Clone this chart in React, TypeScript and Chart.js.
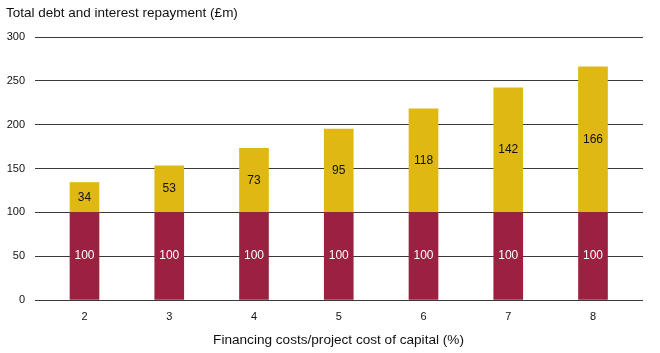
import React, { useEffect, useRef } from "react";
import { Chart, registerables } from "chart.js";

Chart.register(...registerables);

const categories = [2, 3, 4, 5, 6, 7, 8];
const debtValues = [100, 100, 100, 100, 100, 100, 100];
const interestValues = [34, 53, 73, 95, 118, 142, 166];
const yTicks = [0, 50, 100, 150, 200, 250, 300];

const chartTitle = "Total debt and interest repayment (£m)";
const xTitle = "Financing costs/project cost of capital (%)";

const RED = "#9B2140";
const GOLD = "#DFB813";
const FONT = "'Liberation Sans', Arial, Helvetica, sans-serif";

export default function App() {
  const ref = useRef<HTMLCanvasElement | null>(null);

  useEffect(() => {
    if (!ref.current) return;

    const textPlugin = {
      id: "textPlugin",
      afterDatasetsDraw(chart: any) {
        const ctx = chart.ctx;
        ctx.save();
        chart.data.datasets.forEach((ds: any, di: number) => {
          const meta = chart.getDatasetMeta(di);
          meta.data.forEach((bar: any, i: number) => {
            const v = ds.data[i].y;
            const { x, y, base } = bar.getProps(["x", "y", "base"], true);
            ctx.fillStyle = di === 0 ? "#ffffff" : "#111111";
            ctx.font = `12px ${FONT}`;
            ctx.textAlign = "center";
            ctx.textBaseline = "middle";
            ctx.fillText(String(v), x, (y + base) / 2);
          });
        });
        ctx.fillStyle = "#111111";
        ctx.font = `13.5px ${FONT}`;
        ctx.textAlign = "left";
        ctx.textBaseline = "alphabetic";
        ctx.fillText(chartTitle, 6, 17);
        ctx.textAlign = "center";
        ctx.font = `13.6px ${FONT}`;
        ctx.fillText(xTitle, 338.5, 344);
        ctx.restore();
      },
    };

    const chart = new Chart(ref.current, {
      type: "bar",
      data: {
        datasets: [
          {
            label: "Debt",
            data: categories.map((c, i) => ({ x: c, y: debtValues[i] })),
            backgroundColor: RED,
            barThickness: 29,
          },
          {
            label: "Interest",
            data: categories.map((c, i) => ({ x: c, y: interestValues[i] })),
            backgroundColor: GOLD,
            barThickness: 29,
          },
        ],
      },
      options: {
        animation: false,
        responsive: false,
        layout: { padding: { left: 0, right: 17, top: 37, bottom: 0 } },
        plugins: {
          legend: { display: false },
          tooltip: { enabled: false },
          title: { display: false },
        },
        scales: {
          x: {
            type: "linear",
            stacked: true,
            offset: false,
            min: 1.416,
            max: 8.59,
            afterBuildTicks: (scale: any) => {
              scale.ticks = categories.map((c) => ({ value: c }));
            },
            afterFit: (scale: any) => {
              scale.height = 53;
            },
            grid: { display: false, drawTicks: false },
            border: { display: false },
            ticks: {
              padding: 10,
              color: "#111111",
              font: { family: FONT, size: 11 },
              callback: (v: any) => String(v),
            },
          },
          y: {
            stacked: true,
            min: 0,
            max: 300,
            afterBuildTicks: (scale: any) => {
              scale.ticks = yTicks.map((t) => ({ value: t }));
            },
            afterFit: (scale: any) => {
              scale.width = 35;
            },
            grid: { color: "#3a3a3a", lineWidth: 1, drawTicks: false },
            border: { display: false },
            ticks: {
              padding: 10,
              color: "#111111",
              font: { family: FONT, size: 11 },
            },
          },
        },
      },
      plugins: [textPlugin],
    } as any);

    return () => chart.destroy();
  }, []);

  return (
    <div style={{ position: "absolute", left: 0, top: 0, width: 660, height: 353, background: "#fff" }}>
      <canvas ref={ref} width={660} height={353} />
    </div>
  );
}
